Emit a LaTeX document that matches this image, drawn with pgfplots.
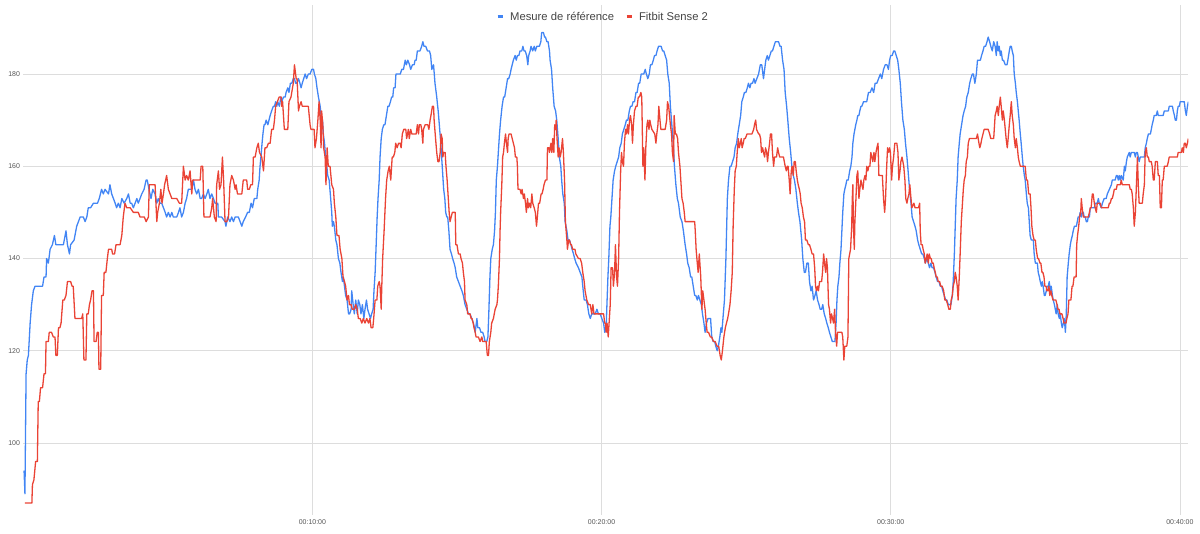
\documentclass[border=0pt]{standalone}
\usepackage{fontspec}
\setmainfont{Liberation Sans}
\usepackage{pgfplots}
\pgfplotsset{compat=1.18}
\definecolor{cblue}{HTML}{4285F4}
\definecolor{cred}{HTML}{EA4335}
\definecolor{cgrid}{HTML}{DDDDDD}
\definecolor{ctext}{HTML}{444444}
\definecolor{ctick}{HTML}{555555}
\begin{document}
\begin{tikzpicture}
\begin{axis}[name=ax, at={(0,0)}, anchor=south west,
 width=1165.1bp, height=510bp, scale only axis,
 xmin=0, xmax=40.29, ymin=84.4, ymax=194.96,
 axis line style={draw=none},
 major tick length=0pt,
 xtick={10,20,30,40}, xticklabels={00:10:00,00:20:00,00:30:00,00:40:00},
 ytick={100,120,140,160,180},
 grid=major, major grid style={cgrid, line width=0.8bp},
 tick label style={font=\fontsize{7}{8}\selectfont, text=ctick},
 /pgf/number format/assume math mode=true,
 yticklabel style={inner sep=0pt, anchor=east, xshift=-3bp},
 xticklabel style={inner sep=0pt, anchor=north, yshift=-4.5bp},
 legend columns=2,
 legend style={at={(rel axis cs:0.4058,0.9765)}, anchor=west, draw=none, fill=none,
   font=\fontsize{11.3}{13}\selectfont, text=ctext, inner sep=0pt,
   nodes={inner sep=0pt, text=ctext},
   /tikz/every odd column/.style={column sep=6bp},
   /tikz/every even column/.style={column sep=11bp}},
 legend image code/.code={\draw[line width=3bp, line cap=butt] (0bp,0bp) -- (5bp,0bp);},
 every axis plot/.append style={line width=1.3bp, line join=round},
]
\addplot[cblue] coordinates {
(0.03,94)(0.06,89)(0.10,115)(0.14,118)(0.18,119)(0.24,126)(0.29,130)(0.35,133)(0.41,134)(0.67,134)(0.72,136)(0.79,136)(0.81,140)(0.87,139)(0.93,142)(1.01,143)(1.08,145)(1.13,143)(1.39,143)(1.48,146)(1.53,143)(1.60,141)(1.64,143)(1.76,144)(1.85,147)(1.91,148)(1.97,149)(2.02,149)(2.08,149)(2.14,148)(2.20,149)(2.25,151)(2.33,151)(2.43,152)(2.48,152)(2.57,152)(2.63,153)(2.71,155)(2.77,154)(2.83,155)(2.95,154)(3.00,156)(3.06,154)(3.12,153)(3.18,152)(3.23,151)(3.29,152)(3.35,151)(3.41,153)(3.49,152)(3.58,153)(3.64,154)(3.70,152)(3.75,152)(3.81,151)(3.87,152)(3.93,153)(3.98,152)(4.04,153)(4.10,154)(4.18,155)(4.25,157)(4.29,157)(4.35,155)(4.42,153)(4.48,155)(4.56,154)(4.62,152)(4.67,153)(4.73,152)(4.79,152)(4.85,151)(4.91,150)(4.96,149)(5.02,150)(5.08,149)(5.14,150)(5.19,149)(5.25,149)(5.31,149)(5.37,150)(5.42,151)(5.48,149)(5.54,150)(5.60,152)(5.65,153)(5.71,155)(5.77,155)(5.83,155)(5.89,157)(5.94,155)(6.00,154)(6.06,155)(6.12,153)(6.17,153)(6.23,154)(6.29,153)(6.35,154)(6.40,155)(6.46,153)(6.52,154)(6.58,153)
(6.63,152)(6.73,152)(6.75,149)(6.86,149)(6.98,148)(7.01,147)(7.07,149)(7.15,148)(7.21,149)(7.27,148)(7.33,149)(7.44,149)(7.50,148)(7.56,147)(7.61,148)(7.69,149)(7.76,150)(7.82,150)(7.88,152)(7.93,151)(7.99,153)(8.08,153)(8.11,155)(8.16,157)(8.19,160)(8.22,162)(8.26,165)(8.29,167)(8.33,169)(8.36,169)(8.40,170)(8.46,169)(8.50,170)(8.54,171)(8.59,172)(8.65,173)(8.69,173)(8.73,174)(8.77,173)(8.80,174)(8.86,173)(8.91,175)(8.94,174)(9.00,175)(9.06,175)(9.09,176)(9.15,177)(9.19,176)(9.24,178)(9.29,178)(9.34,179)(9.38,179)(9.42,178)(9.46,178)(9.52,179)(9.57,178)(9.61,177)(9.65,178)(9.70,179)(9.75,180)(9.80,179)(9.86,180)(9.92,180)(9.98,181)(10.04,181)(10.07,180)(10.12,179)(10.16,177)(10.21,175)(10.27,173)(10.30,171)(10.35,170)(10.38,167)(10.42,165)(10.46,162)(10.50,160)(10.53,158)(10.58,157)(10.62,154)(10.67,150)(10.69,147)(10.73,148)(10.76,147)(10.81,144)(10.85,143)(10.90,140)(10.95,139)(10.99,137)(11.04,135)(11.07,136)(11.11,134)(11.15,132)(11.20,131)(11.25,128)(11.29,128)(11.34,129)(11.36,133)(11.41,130)(11.45,128)(11.50,131)(11.55,128)(11.59,131)(11.64,130)(11.68,128)(11.73,130)(11.78,127)(11.82,129)(11.87,131)(11.91,129)(11.96,128)(12.01,127)(12.05,128)(12.10,129)(12.13,133)(12.17,137)(12.20,142)(12.24,149)(12.27,153)(12.31,157)(12.34,162)(12.38,166)(12.42,168)(12.47,169)(12.51,169)(12.56,171)(12.61,173)(12.65,173)(12.70,174)(12.74,175)(12.78,175)(12.81,177)(12.86,177)(12.89,180)(12.93,180)(13.00,180)(13.04,180)(13.09,181)(13.15,181)(13.21,183)(13.25,182)(13.30,183)(13.36,182)(13.40,181)(13.46,182)(13.52,182)(13.55,183)
(13.59,183)(13.63,185)(13.69,185)(13.72,185)(13.78,186)(13.82,187)(13.86,186)(13.92,186)(13.98,185)(14.05,185)(14.09,184)(14.13,181)(14.19,182)(14.24,178)(14.30,175)(14.35,172)(14.39,169)(14.44,165)(14.47,162)(14.51,158)(14.54,155)(14.58,153)(14.61,150)(14.65,149)(14.68,149)(14.72,146)(14.76,142)(14.81,141)(14.85,140)(14.90,139)(14.94,138)(14.99,136)(15.05,135)(15.11,134)(15.17,133)(15.22,132)(15.28,130)(15.34,129)(15.40,128)(15.45,128)(15.51,127)(15.57,126)(15.63,124)(15.69,127)(15.72,125)(15.78,125)(15.83,124)(15.89,124)(15.94,123)(15.97,122)(16.03,122)(16.07,123)(16.10,128)(16.14,136)(16.17,140)(16.22,142)(16.26,143)(16.30,146)(16.33,150)(16.36,157)(16.40,160)(16.43,163)(16.47,167)(16.51,170)(16.56,173)(16.61,175)(16.65,175)(16.70,177)(16.75,179)(16.79,179)(16.84,180)(16.87,181)(16.91,182)(16.95,183)(17.01,184)(17.05,183)(17.09,184)(17.14,184)(17.18,185)(17.24,185)(17.28,186)(17.32,185)(17.36,185)(17.41,184)(17.45,182)(17.48,184)(17.53,185)(17.56,186)(17.62,185)(17.67,186)(17.71,185)(17.76,186)(17.81,186)(17.85,186)(17.90,187)(17.93,189)(17.99,189)(18.03,188)(18.06,188)(18.11,187)(18.15,187)(18.20,185)(18.22,183)(18.27,181)(18.31,177)(18.36,173)(18.41,172)(18.45,170)(18.50,166)(18.54,162)(18.59,160)(18.62,157)(18.66,154)(18.71,152)(18.74,148)(18.80,146)(18.84,144)(18.89,144)(18.94,143)(18.98,142)(19.03,141)(19.07,140)(19.12,139)(19.20,138)(19.26,137)(19.32,136)(19.35,134)(19.40,131)(19.47,131)(19.51,130)(19.56,128)(19.61,127)(19.66,128)(19.72,128)(19.78,128)(19.84,129)(19.89,128)(19.95,128)(20.01,127)(20.07,126)(20.11,124)(20.16,125)
(20.18,129)(20.22,136)(20.25,140)(20.29,147)(20.32,149)(20.36,153)(20.40,157)(20.45,159)(20.49,160)(20.54,161)(20.59,162)(20.63,164)(20.68,165)(20.72,167)(20.77,168)(20.82,169)(20.86,170)(20.91,170)(20.96,172)(21.00,173)(21.05,173)(21.09,174)(21.14,174)(21.19,176)(21.23,176)(21.28,178)(21.32,178)(21.37,180)(21.42,180)(21.46,180)(21.51,181)(21.55,180)(21.60,179)(21.65,180)(21.69,182)(21.74,182)(21.79,183)(21.83,184)(21.88,184)(21.92,185)(21.97,186)(22.02,186)(22.06,186)(22.11,185)(22.15,185)(22.20,184)(22.25,183)(22.29,180)(22.34,178)(22.38,173)(22.43,169)(22.48,165)(22.52,160)(22.57,156)(22.62,153)(22.66,152)(22.72,149)(22.78,148)(22.83,146)(22.89,143)(22.94,141)(22.98,139)(23.03,138)(23.08,136)(23.12,136)(23.17,134)(23.22,132)(23.26,132)(23.31,131)(23.35,132)(23.40,131)(23.45,130)(23.49,128)(23.54,126)(23.58,124)(23.63,126)(23.68,127)(23.72,127)(23.77,127)(23.81,123)(23.86,122)(23.91,122)(23.95,121)(24.00,120)(24.04,121)(24.09,123)(24.13,125)(24.16,124)(24.21,128)(24.25,131)(24.30,140)(24.35,153)(24.39,157)(24.44,160)(24.48,160)(24.53,161)(24.58,162)(24.62,164)(24.67,165)(24.71,167)(24.76,169)(24.81,171)(24.85,174)(24.90,175)(24.94,176)(24.99,176)(25.04,177)(25.08,178)(25.13,177)(25.17,178)(25.22,178)(25.27,179)(25.31,178)(25.37,179)(25.43,180)(25.49,182)(25.54,182)(25.60,179)(25.64,181)(25.68,183)(25.73,184)(25.77,183)(25.82,184)(25.87,185)(25.91,185)(25.96,186)(26.01,187)(26.06,187)(26.12,187)(26.17,186)(26.21,186)(26.26,183)(26.31,181)(26.35,176)(26.40,173)(26.44,170)(26.49,166)(26.54,163)(26.58,160)(26.63,158)(26.67,157)(26.72,155)(26.77,152)(26.81,150)(26.86,148)
(26.92,144)(26.96,140)(27.01,137)(27.05,137)(27.10,139)(27.15,139)(27.19,135)(27.24,133)(27.28,134)(27.33,131)(27.38,132)(27.42,133)(27.47,131)(27.52,130)(27.56,129)(27.61,129)(27.65,130)(27.70,128)(27.75,127)(27.79,126)(27.84,125)(27.88,124)(27.93,123)(27.98,122)(28.02,122)(28.07,122)(28.11,126)(28.14,131)(28.17,134)(28.21,136)(28.24,139)(28.28,142)(28.31,146)(28.34,150)(28.38,154)(28.41,155)(28.45,156)(28.48,157)(28.53,157)(28.58,159)(28.62,160)(28.66,162)(28.69,165)(28.73,167)(28.76,168)(28.79,169)(28.83,170)(28.86,171)(28.90,171)(28.93,172)(28.97,173)(29.00,173)(29.06,174)(29.12,174)(29.17,174)(29.23,176)(29.29,176)(29.35,177)(29.41,176)(29.46,178)(29.52,178)(29.58,179)(29.64,180)(29.69,179)(29.75,181)(29.81,182)(29.87,182)(29.92,181)(29.96,183)(30.00,184)(30.05,184)(30.10,185)(30.14,185)(30.19,184)(30.24,183)(30.28,181)(30.33,178)(30.37,174)(30.42,170)(30.47,168)(30.51,165)(30.56,162)(30.60,159)(30.65,155)(30.70,152)(30.74,149)(30.79,148)(30.84,147)(30.88,146)(30.93,144)(30.97,143)(31.02,142)(31.07,141)(31.11,141)(31.16,140)(31.20,139)(31.25,140)(31.30,139)(31.34,138)(31.39,139)(31.43,138)(31.48,138)(31.53,137)(31.57,136)(31.62,135)(31.67,135)(31.71,134)(31.76,134)(31.80,133)(31.85,132)(31.90,131)(31.94,131)(31.99,130)(32.03,130)(32.08,130)(32.13,132)(32.16,135)(32.20,141)(32.23,147)(32.26,153)(32.30,157)(32.33,162)(32.37,165)(32.40,167)(32.45,169)(32.50,171)(32.54,172)(32.59,173)(32.63,175)(32.68,176)(32.73,178)(32.77,179)(32.82,180)(32.86,180)(32.91,178)(32.96,180)(33.00,183)(33.05,183)(33.10,183)(33.14,184)(33.19,185)(33.23,186)(33.28,186)(33.33,187)(33.37,188)(33.42,187)(33.46,186)(33.51,185)(33.56,187)
(33.61,186)(33.65,184)(33.68,187)(33.72,185)(33.75,186)(33.79,184)(33.82,185)(33.86,183)(33.90,183)(33.96,182)(34.02,182)(34.05,183)(34.10,185)(34.13,186)(34.17,186)(34.20,185)(34.24,184)(34.27,180)(34.31,178)(34.34,176)(34.38,174)(34.41,172)(34.44,170)(34.48,167)(34.51,165)(34.55,162)(34.58,160)(34.62,158)(34.65,157)(34.69,154)(34.72,152)(34.76,151)(34.79,148)(34.82,145)(34.86,144)(34.89,144)(34.93,144)(34.96,141)(35.00,139)(35.03,139)(35.07,139)(35.10,137)(35.14,136)(35.17,135)(35.21,134)(35.24,135)(35.27,134)(35.31,132)(35.34,132)(35.38,133)(35.41,134)(35.45,134)(35.48,135)(35.52,133)(35.55,134)(35.59,132)(35.62,131)(35.66,130)(35.69,129)(35.72,128)(35.76,130)(35.79,128)(35.83,127)(35.86,128)(35.90,126)(35.93,125)(35.97,126)(36.00,127)(36.04,124)(36.07,128)(36.10,136)(36.14,139)(36.17,141)(36.21,143)(36.24,144)(36.28,145)(36.31,146)(36.35,147)(36.38,147)(36.42,147)(36.45,148)(36.48,149)(36.52,149)(36.55,150)(36.59,149)(36.62,150)(36.66,150)(36.69,149)(36.73,149)(36.76,148)(36.80,148)(36.83,149)(36.87,149)(36.90,151)(36.97,151)(37.04,151)(37.07,152)(37.14,152)(37.18,153)(37.21,152)(37.28,151)(37.32,152)(37.38,153)(37.45,153)(37.49,154)(37.56,155)(37.63,156)(37.66,157)(37.76,157)(37.80,158)(37.83,158)(37.87,157)(37.90,158)(37.94,157)(37.97,158)(38.04,157)(38.08,160)(38.11,159)(38.15,161)(38.18,162)(38.25,163)(38.28,162)(38.32,163)(38.42,163)(38.46,162)(38.49,163)(38.53,163)(38.56,162)(38.59,161)(38.63,162)(38.77,162)(38.80,164)(38.84,165)(38.87,166)(38.91,167)(38.98,167)(39.01,168)(39.04,169)(39.08,170)(39.11,171)(39.18,171)(39.22,172)(39.25,171)(39.42,171)(39.46,172)(39.60,172)(39.63,173)(39.74,173)(39.77,172)(39.81,171)(39.84,170)(39.88,170)(39.91,172)(39.94,173)(39.98,173)(40.01,174)(40.15,174)(40.19,172)(40.22,171)(40.26,173)(40.29,174)
};
\addlegendentry{Mesure de référence}
\addplot[cred] coordinates {
(0.06,87)(0.30,87)(0.32,91)(0.37,92)(0.43,96)(0.49,96)(0.52,109)(0.56,109)(0.60,112)(0.67,112)(0.72,115)(0.77,115)(0.79,122)(0.87,122)(0.90,124)(0.98,124)(1.04,123)(1.10,123)(1.13,119)(1.18,119)(1.22,125)(1.27,125)(1.31,126)(1.37,131)(1.42,131)(1.48,132)(1.53,135)(1.64,135)(1.69,134)(1.73,134)(1.79,127)(2.02,127)(2.06,128)(2.10,118)(2.17,118)(2.20,128)(2.25,128)(2.29,130)(2.33,131)(2.38,133)(2.43,133)(2.45,122)(2.52,122)(2.56,124)(2.60,124)(2.62,116)(2.68,116)(2.71,132)(2.77,132)(2.80,137)(2.86,137)(2.91,140)(2.95,142)(3.06,142)(3.09,141)(3.16,141)(3.21,143)(3.35,143)(3.41,145)(3.46,149)(3.52,152)(3.58,151)(3.70,151)(3.81,150)(3.98,150)(4.04,149)(4.19,149)(4.25,148)(4.33,149)(4.36,156)(4.56,156)(4.62,148)(4.65,150)(4.71,152)(4.76,155)(4.80,152)(4.85,154)(4.89,156)(4.96,158)(5.02,155)(5.08,154)(5.14,153)(5.19,153)(5.31,153)(5.40,152)(5.48,152)(5.54,160)(5.60,157)(5.65,158)(5.71,157)(5.77,159)(5.83,154)(5.86,157)(6.12,157)(6.15,160)(6.21,160)(6.25,149)(6.46,149)(6.52,151)(6.55,153)(6.61,149)(6.67,148)
(6.69,156)(6.75,159)(6.79,155)(6.84,156)(6.89,162)(6.93,157)(6.98,148)(7.04,148)(7.10,149)(7.15,156)(7.21,158)(7.27,157)(7.33,155)(7.36,156)(7.41,154)(7.56,154)(7.61,157)(7.73,157)(7.76,155)(7.82,155)(7.87,156)(7.93,156)(7.96,162)(8.02,162)(8.08,164)(8.13,165)(8.17,163)(8.25,162)(8.31,159)(8.36,164)(8.42,164)(8.48,165)(8.54,165)(8.59,168)(8.65,168)(8.69,170)(8.73,173)(8.79,174)(8.85,175)(8.92,175)(8.94,173)(8.97,174)(9.03,168)(9.15,168)(9.19,174)(9.26,175)(9.34,178)(9.38,182)(9.40,181)(9.44,179)(9.47,179)(9.52,172)(9.55,173)(9.61,174)(9.65,173)(9.75,173)(9.86,173)(9.92,169)(9.95,168)(10.06,168)(10.09,164)(10.14,166)(10.19,170)(10.23,174)(10.27,170)(10.30,164)(10.32,172)(10.36,169)(10.39,164)(10.44,162)(10.47,156)(10.51,164)(10.55,160)(10.61,160)(10.67,156)(10.73,155)(10.76,152)(10.81,149)(10.85,145)(10.92,145)(10.96,142)(11.02,140)(11.06,136)(11.11,135)(11.15,134)(11.20,131)(11.25,132)(11.28,130)(11.34,130)(11.38,129)(11.45,129)(11.50,130)(11.55,129)(11.59,127)(11.65,127)(11.71,126)(11.76,127)(11.82,126)(11.88,127)(11.94,126)(11.99,127)(12.03,125)(12.09,125)(12.12,127)(12.17,131)(12.23,131)(12.26,134)(12.31,135)(12.34,134)(12.38,129)(12.40,134)(12.43,140)(12.48,146)(12.53,153)(12.57,157)(12.62,159)(12.66,160)(12.71,157)(12.76,162)(12.80,162)(12.85,163)(12.88,165)(12.93,164)(12.98,165)(13.03,165)(13.07,164)(13.11,167)(13.16,168)(13.23,168)(13.26,166)(13.32,168)(13.35,166)(13.40,168)(13.44,167)(13.50,167)(13.55,167)
(13.59,167)(13.63,169)(13.67,167)(13.70,169)(13.75,169)(13.78,168)(13.82,165)(13.84,168)(13.90,169)(13.96,169)(13.99,169)(14.03,168)(14.07,170)(14.10,171)(14.15,173)(14.19,173)(14.21,170)(14.26,166)(14.30,163)(14.34,161)(14.38,161)(14.42,163)(14.45,167)(14.49,166)(14.51,162)(14.54,163)(14.59,163)(14.62,160)(14.66,157)(14.69,154)(14.73,150)(14.76,148)(14.80,149)(14.84,150)(14.89,150)(14.94,150)(14.96,143)(15.00,143)(15.05,141)(15.11,141)(15.14,140)(15.19,139)(15.22,137)(15.26,135)(15.28,131)(15.34,130)(15.37,128)(15.42,128)(15.45,128)(15.49,127)(15.52,127)(15.56,126)(15.59,125)(15.63,124)(15.66,123)(15.74,123)(15.80,122)(15.86,123)(15.89,122)(16.01,122)(16.05,119)(16.09,119)(16.12,122)(16.17,124)(16.20,126)(16.26,127)(16.32,129)(16.38,130)(16.40,131)(16.43,134)(16.47,140)(16.49,146)(16.51,150)(16.55,156)(16.58,162)(16.61,163)(16.64,165)(16.68,167)(16.71,165)(16.75,163)(16.77,166)(16.80,167)(16.87,167)(16.91,166)(16.95,165)(16.99,164)(17.02,162)(17.07,162)(17.09,160)(17.11,155)(17.18,155)(17.22,154)(17.25,155)(17.30,153)(17.33,154)(17.37,152)(17.40,150)(17.44,153)(17.47,151)(17.51,152)(17.55,151)(17.59,154)(17.62,152)(17.67,151)(17.71,150)(17.75,147)(17.78,149)(17.82,152)(17.86,152)(17.91,154)(17.94,154)(17.98,155)(18.01,156)(18.06,157)(18.11,157)(18.13,164)(18.18,164)(18.20,163)(18.25,165)(18.28,163)(18.31,166)(18.35,163)(18.38,169)(18.41,168)(18.43,170)(18.46,166)(18.50,162)(18.53,164)(18.57,162)(18.60,163)(18.65,166)(18.68,163)(18.72,157)(18.75,148)(18.80,144)(18.82,142)(18.86,144)(18.89,144)(18.93,143)(18.96,143)(19.00,142)(19.08,142)(19.11,141)(19.20,140)(19.26,140)(19.31,139)(19.35,137)(19.40,135)(19.43,133)(19.49,131)(19.55,130)(19.61,130)(19.66,128)(19.70,130)(19.74,128)(20.07,128)(20.11,126)
(20.13,126)(20.16,124)(20.19,126)(20.23,123)(20.26,126)(20.30,130)(20.33,138)(20.38,138)(20.41,134)(20.45,137)(20.48,143)(20.52,136)(20.55,134)(20.59,140)(20.62,150)(20.66,159)(20.69,163)(20.72,161)(20.76,160)(20.79,165)(20.83,168)(20.86,167)(20.90,169)(20.93,167)(20.97,170)(21.00,171)(21.04,169)(21.07,165)(21.10,169)(21.14,172)(21.19,173)(21.23,173)(21.27,175)(21.31,175)(21.36,176)(21.39,175)(21.43,160)(21.46,164)(21.50,157)(21.53,164)(21.57,169)(21.60,170)(21.64,168)(21.67,170)(21.70,169)(21.74,168)(21.84,167)(21.88,165)(21.91,167)(21.95,169)(21.98,173)(22.02,170)(22.05,168)(22.20,168)(22.25,170)(22.28,174)(22.32,173)(22.35,171)(22.38,169)(22.42,167)(22.45,163)(22.49,161)(22.51,171)(22.55,167)(22.59,167)(22.63,166)(22.66,163)(22.71,160)(22.74,157)(22.78,153)(22.82,152)(22.86,150)(22.89,148)(23.22,148)(23.24,146)(23.27,142)(23.31,139)(23.34,137)(23.38,141)(23.41,138)(23.43,136)(23.47,129)(23.50,133)(23.54,131)(23.58,129)(23.62,126)(23.65,124)(23.70,124)(23.76,123)(23.81,123)(23.87,122)(23.93,122)(23.99,121)(24.05,121)(24.10,119)(24.14,118)(24.18,120)(24.23,123)(24.28,125)(24.32,126)(24.36,127)(24.39,128)(24.44,130)(24.48,133)(24.52,137)(24.55,147)(24.59,155)(24.62,159)(24.66,160)(24.69,163)(24.73,166)(24.76,164)(24.80,165)(24.83,166)(24.86,164)(24.90,165)(24.93,166)(24.97,166)(25.03,167)(25.14,167)(25.20,167)(25.26,168)(25.29,169)(25.33,170)(25.36,168)(25.43,167)(25.46,167)(25.50,166)(25.53,163)(25.57,164)(25.60,163)(25.64,162)(25.67,164)(25.71,163)(25.74,161)(25.77,163)(25.81,165)(25.84,167)(25.88,167)(25.91,163)(25.95,160)(25.98,162)(26.05,162)(26.09,164)(26.12,163)(26.16,162)(26.29,162)(26.35,160)(26.39,159)(26.42,160)(26.45,160)(26.49,157)(26.52,154)(26.56,159)(26.59,160)(26.63,158)(26.66,161)(26.70,161)(26.73,159)(26.77,157)(26.80,156)(26.84,155)
(26.87,154)(26.90,152)(26.94,151)(26.98,149)(27.02,148)(27.05,144)(27.10,144)(27.15,143)(27.19,143)(27.24,142)(27.28,141)(27.33,141)(27.37,138)(27.40,134)(27.43,133)(27.47,134)(27.50,133)(27.54,135)(27.61,135)(27.64,137)(27.68,141)(27.71,139)(27.75,137)(27.78,140)(27.81,138)(27.85,130)(27.88,129)(27.92,126)(27.95,128)(27.99,127)(28.02,126)(28.06,129)(28.09,124)(28.13,121)(28.16,124)(28.31,124)(28.34,123)(28.38,118)(28.41,121)(28.48,121)(28.52,123)(28.55,140)(28.58,141)(28.61,142)(28.65,147)(28.67,153)(28.69,156)(28.71,147)(28.74,142)(28.76,148)(28.79,152)(28.83,158)(28.86,159)(28.90,153)(28.93,155)(28.97,157)(29.00,156)(29.04,155)(29.07,157)(29.11,158)(29.14,157)(29.17,160)(29.21,159)(29.24,160)(29.28,160)(29.31,163)(29.35,162)(29.38,161)(29.42,163)(29.45,161)(29.49,163)(29.52,164)(29.56,165)(29.59,158)(29.71,158)(29.75,153)(29.79,150)(29.82,153)(29.86,160)(29.89,164)(29.93,163)(29.96,164)(29.99,163)(30.03,157)(30.06,160)(30.10,162)(30.14,165)(30.21,165)(30.25,163)(30.28,157)(30.32,159)(30.35,161)(30.39,162)(30.42,161)(30.45,160)(30.49,157)(30.52,153)(30.56,152)(30.59,153)(30.63,154)(30.66,156)(30.70,153)(30.73,151)(30.80,152)(30.84,151)(30.96,151)(31.00,152)(31.02,146)(31.05,143)(31.09,143)(31.12,142)(31.16,141)(31.19,139)(31.23,140)(31.26,141)(31.30,139)(31.33,141)(31.37,140)(31.40,140)(31.43,139)(31.47,139)(31.50,138)(31.54,137)(31.57,136)(31.61,136)(31.64,135)(31.69,135)(31.73,134)(31.78,134)(31.83,133)(31.87,131)(31.92,131)(31.97,130)(32.01,129)(32.06,129)(32.09,131)(32.13,132)(32.16,134)(32.20,135)(32.23,137)(32.26,136)(32.30,134)(32.33,131)(32.37,136)(32.40,141)(32.44,148)(32.47,151)(32.51,155)(32.54,157)(32.58,158)(32.61,161)(32.65,162)(32.68,165)(32.72,166)(32.96,166)(33.00,167)(33.05,165)(33.08,164)(33.12,165)(33.15,166)(33.19,167)(33.23,168)(33.37,168)(33.42,167)(33.46,166)(33.56,166)
(33.61,171)(33.65,172)(33.68,173)(33.72,171)(33.75,173)(33.79,175)(33.82,173)(33.86,170)(33.89,172)(33.93,170)(33.96,168)(33.99,166)(34.03,164)(34.06,166)(34.10,169)(34.13,171)(34.17,174)(34.20,171)(34.24,169)(34.27,166)(34.31,164)(34.34,166)(34.38,164)(34.41,162)(34.44,161)(34.48,160)(34.65,160)(34.69,157)(34.73,157)(34.77,154)(34.82,154)(34.85,151)(34.88,147)(34.92,145)(34.96,144)(35.00,144)(35.03,142)(35.08,140)(35.11,140)(35.16,139)(35.19,139)(35.23,137)(35.26,137)(35.30,136)(35.33,134)(35.37,134)(35.40,133)(35.44,133)(35.47,134)(35.50,132)(35.54,133)(35.57,132)(35.61,131)(35.71,131)(35.75,130)(35.78,129)(35.82,129)(35.85,128)(35.92,128)(35.96,127)(35.99,126)(36.06,126)(36.09,127)(36.13,128)(36.16,131)(36.23,131)(36.27,134)(36.30,134)(36.34,136)(36.41,136)(36.43,143)(36.46,145)(36.50,147)(36.53,149)(36.57,150)(36.59,153)(36.62,151)(36.66,149)(36.83,149)(36.87,150)(36.90,151)(36.93,151)(36.97,154)(37.00,154)(37.04,152)(37.07,151)(37.11,150)(37.14,152)(37.25,152)(37.28,151)(37.52,151)(37.56,152)(37.59,152)(37.63,153)(37.66,153)(37.70,154)(37.73,155)(37.80,155)(37.83,156)(37.94,156)(37.97,157)(38.01,156)(38.25,156)(38.28,155)(38.32,155)(38.35,154)(38.39,151)(38.42,147)(38.46,150)(38.49,155)(38.53,162)(38.56,156)(38.59,152)(38.70,152)(38.73,154)(38.77,156)(38.80,163)(38.84,164)(38.87,162)(38.91,162)(38.94,161)(39.01,161)(39.04,160)(39.08,157)(39.11,157)(39.15,161)(39.22,161)(39.25,158)(39.29,158)(39.32,151)(39.36,151)(39.39,157)(39.42,157)(39.46,160)(39.56,160)(39.60,161)(39.63,162)(39.91,162)(39.94,163)(40.05,163)(40.08,164)(40.12,163)(40.15,165)(40.19,165)(40.22,164)(40.26,165)(40.29,166)
};
\addlegendentry{Fitbit Sense 2}
\end{axis}
\path ([shift={(-23.2bp,-19bp)}]ax.south west) rectangle ([shift={(11.7bp,5bp)}]ax.north east);
\end{tikzpicture}
\end{document}
